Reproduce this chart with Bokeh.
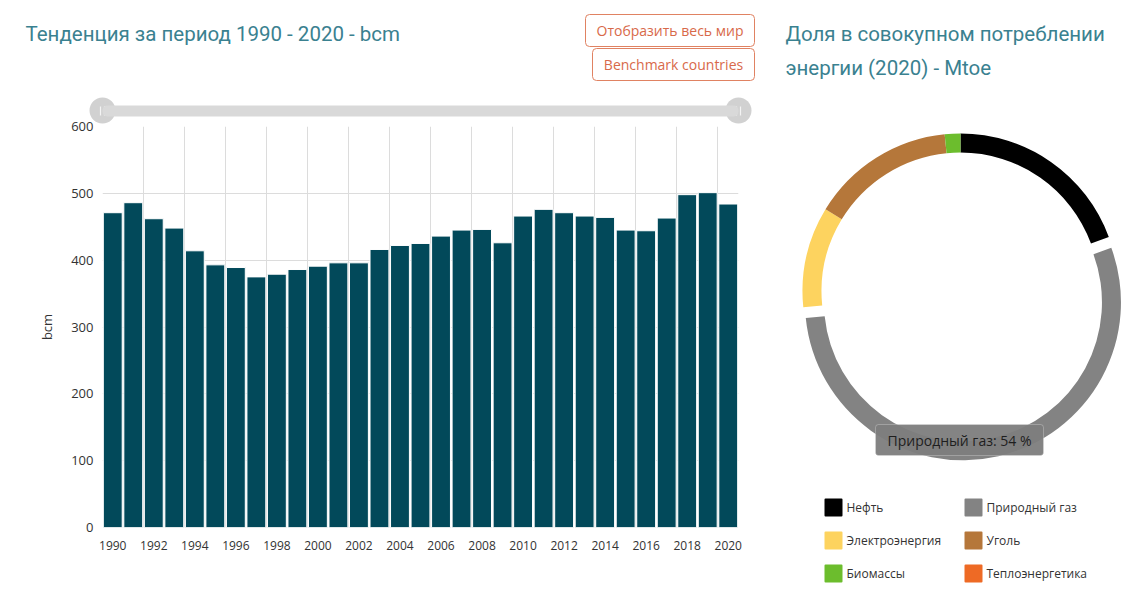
import numpy as np
from bokeh.plotting import figure
from bokeh.models import Range1d, FixedTicker, Label, BoxAnnotation
from bokeh.embed import file_html
from bokeh.resources import INLINE
from bokeh.core.properties import value

# ---------------- data ----------------
years = list(range(1990, 2021))
consumption_bcm = [471, 486, 462, 448, 414, 393, 389, 375, 379, 386, 391, 396, 396, 416,
                   422, 425, 436, 445, 446, 426, 466, 476, 471, 466, 464, 445, 444, 463,
                   498, 501, 484]
y_ticks = [0, 100, 200, 300, 400, 500, 600]
x_tick_years = list(range(1990, 2021, 2))

sources = ["Нефть", "Природный газ", "Электроэнергия", "Уголь", "Биомассы", "Теплоэнергетика"]
shares = [19.4, 54.0, 10.3, 14.7, 1.6, 0.0]
source_colors = ["#000000", "#838383", "#fdd35f", "#b5773a", "#6cbd2d", "#ee6a25"]

bar_title = "Тенденция за период 1990 - 2020 - bcm"
donut_title = ["Доля в совокупном потреблении", "энергии (2020) - Mtoe"]
buttons = ["Отобразить весь мир", "Benchmark countries"]

TITLE_FONT = "Roboto"
TITLE_COLOR = "#3a8190"
BTN_COLOR = "#d8694a"
W, H = 1136, 594

# ---------------- background / decoration canvas (pixel coordinates) ----------------
def Y(py):
    return H - py

d = figure(width=W, height=H, x_range=Range1d(0, W), y_range=Range1d(0, H),
           x_axis_location=None, y_axis_location=None, min_border=0,
           output_backend="svg", toolbar_location=None)
d.grid.visible = False
d.outline_line_color = None

# titles
d.text(x=[25], y=[Y(33)], text=[bar_title], text_font=value(TITLE_FONT), text_font_size="20.5px",
       text_color=TITLE_COLOR, text_baseline="middle")
d.text(x=[785, 785], y=[Y(33), Y(67)], text=donut_title, text_font=value(TITLE_FONT),
       text_font_size="20.5px", text_color=TITLE_COLOR, text_baseline="middle")

# buttons
for (l, r, t, b), txt in zip([(585, 754, 14, 46), (592, 754, 48, 80)], buttons):
    d.add_layout(BoxAnnotation(left=l, right=r, top=Y(t), bottom=Y(b),
                               fill_color="white", fill_alpha=1, line_color="#e08262",
                               line_width=1, line_alpha=1, border_radius=4))
    d.add_layout(Label(x=(l + r) / 2, y=Y((t + b) / 2), text=txt, text_font="Open Sans",
                       text_font_size="14px", text_color=BTN_COLOR, text_align="center",
                       text_baseline="middle"))

# navigator slider
d.add_layout(BoxAnnotation(left=102, right=738, top=Y(105), bottom=Y(116),
                           fill_color="#d9d9d9", fill_alpha=1, line_color=None, border_radius=5))
d.circle(x=[102, 738], y=[Y(110), Y(110)], radius=13, fill_color="#d1d1d1", line_color=None)
for hx in (102, 738):
    d.segment(x0=[hx - 2, hx + 2], y0=[Y(106), Y(106)], x1=[hx - 2, hx + 2], y1=[Y(115), Y(115)],
              line_color="#f4f4f4", line_width=1.2)

# donut
cx, cy, R, RW = 960, Y(291), 158, 19
total = sum(shares)
cum = np.concatenate([[0], np.cumsum(shares)]) / total * 2 * np.pi
keep = [i for i, s in enumerate(shares) if s > 0]
starts = [np.pi / 2 - cum[i] for i in keep]
ends = [np.pi / 2 - cum[i + 1] for i in keep]
mids = [(a + b) / 2 for a, b in zip(starts, ends)]
explode = [11 if sources[i] == "Природный газ" else 0 for i in keep]
xs = [cx + e * np.cos(m) for e, m in zip(explode, mids)]
ys = [cy + e * np.sin(m) for e, m in zip(explode, mids)]
d.annular_wedge(x=xs, y=ys, inner_radius=R - RW, outer_radius=R, start_angle=starts,
                end_angle=ends, direction="clock", fill_color=[source_colors[i] for i in keep],
                line_color=None)

# tooltip
tip = f"{sources[1]}: {shares[1]:.0f} %"
d.add_layout(BoxAnnotation(left=875, right=1043, top=Y(424), bottom=Y(455),
                           fill_color="#7d7d7d", fill_alpha=0.95, line_color="#f0f0f0",
                           line_width=1, border_radius=3))
d.add_layout(Label(x=959, y=Y(440), text=tip, text_font="Open Sans", text_font_size="14px",
                   text_color="#1e1e1e", text_align="center", text_baseline="middle"))

# legend
lx = [833, 973]
lyy = [507, 540, 573]
leg_x = [lx[i % 2] for i in range(len(sources))]
leg_y = [Y(lyy[i // 2]) for i in range(len(sources))]
d.scatter(x=leg_x, y=leg_y, marker="square", size=16, fill_color=source_colors,
          line_color=source_colors, line_join="round", line_width=2)
d.text(x=[v + 13 for v in leg_x], y=leg_y, text=sources, text_font=value("Open Sans"),
       text_font_size="12px", text_color="#333333", text_baseline="middle")

# ---------------- bar chart (overlaid, transparent borders) ----------------
p = figure(frame_width=636, frame_height=401,
           x_range=Range1d(years[0] - 0.5, years[-1] + 0.5), y_range=Range1d(0, 600),
           min_border_left=102, min_border_right=32, min_border_top=126, min_border_bottom=67,
           output_backend="svg", toolbar_location=None)
p.outline_line_color = None
p.background_fill_color = None
p.border_fill_color = None
p.styles = {"position": "absolute", "left": "0px", "top": "0px"}

p.vbar(x=years, top=consumption_bcm, width=0.92, fill_color="#02495a", line_color="white",
       line_width=1)

p.xaxis.ticker = FixedTicker(ticks=x_tick_years)
p.yaxis.ticker = FixedTicker(ticks=y_ticks)
for ax in (p.xaxis[0], p.yaxis[0]):
    ax.axis_line_color = None
    ax.major_tick_line_color = None
    ax.minor_tick_line_color = None
    ax.major_tick_out = 0
    ax.major_tick_in = 0
    ax.minor_tick_out = 0
    ax.major_label_text_font = "Open Sans"
    ax.major_label_text_color = "#333333"
p.xaxis.major_label_text_font_size = "12px"
p.xaxis.major_label_standoff = 13
p.yaxis.major_label_text_font_size = "13px"
p.yaxis.major_label_standoff = 9
p.yaxis.axis_label = "bcm"
p.yaxis.axis_label_text_font = "Open Sans"
p.yaxis.axis_label_text_font_style = "normal"
p.yaxis.axis_label_text_font_size = "13px"
p.yaxis.axis_label_text_color = "#333333"
p.yaxis.axis_label_standoff = 12

grid_x = [years[0] - 0.5 + 2 * k for k in range(16)] + [years[-1] + 0.5]
p.xgrid.ticker = FixedTicker(ticks=grid_x)
p.ygrid.ticker = FixedTicker(ticks=y_ticks)
p.xgrid.grid_line_color = "#dcdcdc"
p.ygrid.grid_line_color = "#dcdcdc"

open("out.html", "w").write(file_html([d, p], INLINE))
